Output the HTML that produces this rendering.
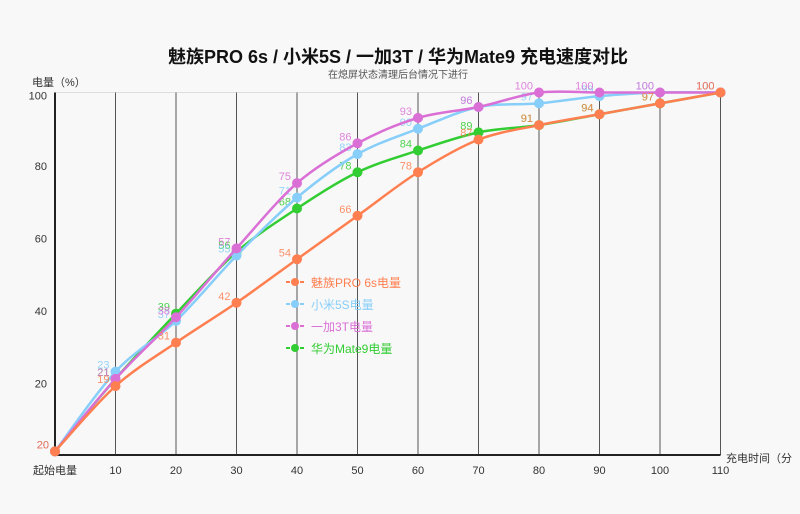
<!DOCTYPE html>
<html><head><meta charset="utf-8"><style>
body{margin:0;background:#f8f8f8;}
svg{display:block;font-family:"Liberation Sans","Noto Sans CJK SC",sans-serif;}
</style></head><body>
<svg id="c" width="800" height="514">
<rect width="800" height="514" fill="#f8f8f8"/>
<text x="398" y="63" text-anchor="middle" font-size="18" font-weight="bold" fill="#111">魅族PRO 6s / 小米5S / 一加3T / 华为Mate9 充电速度对比</text>
<text x="398" y="78" text-anchor="middle" font-size="10" fill="#555">在熄屏状态清理后台情况下进行</text>
<text x="32" y="86" font-size="11" fill="#333">电量（%）</text>
<text x="726" y="462" font-size="11" fill="#333">充电时间（分</text>
<g id="grid"></g><g id="series"></g><g id="legend"></g>
</svg>
<script>
const categories=["起始电量","10","20","30","40","50","60","70","80","90","100","110"];
const yTicks=[20,40,60,80,100];
const names=["华为Mate9电量","小米5S电量","一加3T电量","魅族PRO 6s电量"];
const colors=["#32cd32","#87cefa","#da70d6","#ff7f50"];
const mate9=[1,21,39,56,68,78,84,89,91,94,97,100];
const mi5s=[1,23,37,55,71,83,90,96,97,99,100,100];
const op3t=[1,21,38,57,75,86,93,96,100,100,100,100];
const pro6s=[1,19,31,42,54,66,78,87,91,94,97,100];
const startLabel="20";
const NS="http://www.w3.org/2000/svg";
const x0=55,dx=60.5,yb=455,k=3.625;
const X=i=>x0+i*dx, Y=v=>yb-v*k;
function mk(t,a,p){const e=document.createElementNS(NS,t);for(const q in a)e.setAttribute(q,a[q]);p.appendChild(e);return e;}
const g=document.getElementById('grid'),s=document.getElementById('series'),lg=document.getElementById('legend');
mk('line',{x1:x0,y1:Y(100),x2:X(11),y2:Y(100),stroke:'#ddd'},g);
categories.forEach((c,i)=>{
 if(i>0){const l=mk('line',{x1:X(i),y1:Y(100),x2:X(i),y2:yb,stroke:'#555','stroke-width':1},g);
 
 }
 const t=mk('text',{x:X(i),y:yb+19,'text-anchor':'middle','font-size':11,fill:'#333'},g);t.textContent=c;
 
 
});
mk('line',{x1:x0,y1:Y(100),x2:x0,y2:yb,stroke:'#222','stroke-width':2},g);
mk('line',{x1:x0,y1:yb,x2:X(11),y2:yb,stroke:'#222','stroke-width':2},g);
yTicks.forEach(v=>{const t=mk('text',{x:47,y:Y(v)+(v===100?7:5),'text-anchor':'end','font-size':11,fill:'#333'},g);t.textContent=v;
 
 });
function path(d){let p=`M${X(0)},${Y(d[0])}`;for(let i=0;i<d.length-1;i++){const p0=[X(Math.max(i-1,0)),Y(d[Math.max(i-1,0)])],p1=[X(i),Y(d[i])],p2=[X(i+1),Y(d[i+1])],p3=[X(Math.min(i+2,d.length-1)),Y(d[Math.min(i+2,d.length-1)])];const t=0.16;
p+=` C${p1[0]+(p2[0]-p0[0])*t},${p1[1]+(p2[1]-p0[1])*t} ${p2[0]-(p3[0]-p1[0])*t},${p2[1]-(p3[1]-p1[1])*t} ${p2[0]},${p2[1]}`;}return p;}
[mate9,mi5s,op3t,pro6s].forEach((d,si)=>{
 const grp=mk('g',{},s);
 
 
 mk('path',{d:path(d),fill:'none',stroke:colors[si],'stroke-width':2.5},grp);
 d.forEach((v,i)=>{const c=mk('circle',{cx:X(i),cy:Y(v),r:5,fill:colors[si]},grp);
  
  
  const t=mk('text',{x:X(i)-6,y:Y(v)-3,'text-anchor':'end','font-size':11,fill:colors[si],opacity:0.85},grp);t.textContent=i===0?startLabel:v;
  
  });
});
[3,1,2,0].forEach((si,j)=>{const y=282+j*22;
 const e=mk('g',{},lg);
 
 
 mk('line',{x1:286,y1:y,x2:304,y2:y,stroke:colors[si],'stroke-width':2,'stroke-dasharray':'4,3'},e);
 mk('circle',{cx:295,cy:y,r:4,fill:colors[si]},e);
 const t=mk('text',{x:311,y:y+5,'font-size':12,fill:colors[si]},e);t.textContent=names[si];});
</script>
</body></html>
